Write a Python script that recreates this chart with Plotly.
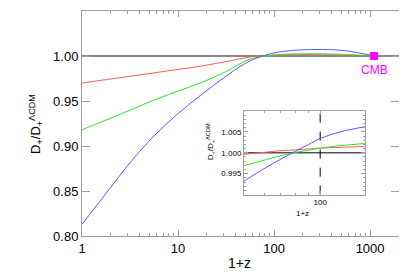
import plotly.graph_objects as go
import numpy as np

# ---- data ----
x_main = [1, 1.8, 3.2, 5.6, 10, 18, 32, 56, 100, 180, 320, 560, 1100]
red_main = [0.970, 0.9738, 0.9775, 0.9812, 0.9850, 0.9890, 0.9938, 0.9990, 1.0010, 1.0015, 1.0014, 1.0010, 1.000]
green_main = [0.918, 0.929, 0.940, 0.951, 0.961, 0.971, 0.983, 0.9965, 1.0011, 1.0024, 1.0024, 1.0017, 1.000]
blue_main = [0.813, 0.848, 0.882, 0.911, 0.936, 0.958, 0.978, 0.9945, 1.0034, 1.0066, 1.0072, 1.0058, 1.000]

x_inset = [50, 60, 70, 80, 90, 100, 120, 150]
red_inset = [0.9996, 1.0001, 1.0005, 1.0007, 1.0009, 1.0011, 1.0013, 1.0015]
green_inset = [0.9969, 0.9982, 0.9993, 1.0001, 1.0006, 1.0011, 1.0017, 1.0022]
blue_inset = [0.9932, 0.9962, 0.9985, 1.0004, 1.0020, 1.0034, 1.0050, 1.0062]

cmb_x = [1100]
cmb_y = [1.0]

RED = "rgb(255,90,90)"
GREEN = "rgb(40,230,40)"
BLUE = "rgb(90,90,255)"
AX = "#a0a0a0"
FONT = "Liberation Sans, Arial, sans-serif"
YTITLE = "D<sub>+</sub>/D<sub>+</sub><sup>ΛCDM</sup>"

fig = go.Figure()

fig.add_trace(go.Scatter(x=[1, 2000], y=[1.0, 1.0], mode="lines",
                         line=dict(color="#8a8a8a", width=2), xaxis="x", yaxis="y", hoverinfo="skip"))
for yy, c in [(red_main, RED), (green_main, GREEN), (blue_main, BLUE)]:
    fig.add_trace(go.Scatter(x=x_main, y=yy, mode="lines",
                             line=dict(color=c, width=1, shape="spline", smoothing=1.0),
                             xaxis="x", yaxis="y"))
fig.add_trace(go.Scatter(x=cmb_x, y=cmb_y, mode="markers",
                         marker=dict(symbol="square", size=8, color="#ff00ff"), xaxis="x", yaxis="y"))

# inset
fig.add_trace(go.Scatter(x=[50, 150], y=[1.0, 1.0], mode="lines",
                         line=dict(color="#555555", width=1.5), xaxis="x2", yaxis="y2"))
fig.add_trace(go.Scatter(x=[100, 100], y=[0.990, 1.010], mode="lines",
                         line=dict(color="black", width=1, dash="dash"), xaxis="x2", yaxis="y2"))
for yy, c in [(red_inset, RED), (green_inset, GREEN), (blue_inset, BLUE)]:
    fig.add_trace(go.Scatter(x=x_inset, y=yy, mode="lines", line=dict(color=c, width=1, shape="spline"),
                             xaxis="x2", yaxis="y2"))

fig.add_shape(type="rect", xref="x2 domain", yref="y2", x0=0, x1=1, y0=0.995, y1=1.005,
              fillcolor="#d3d3d3", line_width=0, layer="below")

ax_common = dict(showline=True, linecolor=AX, mirror="allticks", ticks="inside", tickcolor=AX,
                 showgrid=False, zeroline=False, automargin=False)

# page body has an 8px default margin: size/margins compensate so the plot area lands where the reference has it
fig.update_layout(
    width=399, height=270,
    margin=dict(l=74, r=8, t=3, b=42),
    paper_bgcolor="white", plot_bgcolor="white",
    showlegend=False,
    font=dict(family=FONT, color="black"),
    xaxis=dict(type="log", range=[0, np.log10(2000)], domain=[0, 1],
               tickvals=[1, 10, 100, 1000], ticktext=["1", "10", "100", "1000"], ticklen=6,
               minor=dict(ticks="inside", ticklen=3, tickcolor=AX,
                          tickvals=[2, 3, 4, 5, 6, 7, 8, 9, 20, 30, 40, 50, 60, 70, 80, 90,
                                    200, 300, 400, 500, 600, 700, 800, 900]),
               tickfont=dict(size=13), **ax_common),
    yaxis=dict(range=[0.8, 1.05], domain=[0, 1], tickvals=[0.8, 0.85, 0.9, 0.95, 1.0, 1.05],
               tickformat=".2f", ticklen=8, tickfont=dict(size=13), **ax_common),
    xaxis2=dict(type="log", range=[np.log10(50), np.log10(150)], domain=[0.511, 0.892], anchor="y2",
                tickvals=[100], ticktext=["100"], ticklen=4, tickfont=dict(size=8),
                minor=dict(ticks="inside", ticklen=2, tickcolor=AX, tickvals=[60, 70, 80, 90]),
                **ax_common),
    yaxis2=dict(range=[0.990, 1.010], domain=[0.184, 0.556], anchor="x2",
                tickvals=[0.995, 1.0, 1.005], tickformat=".3f", ticklen=4, tickfont=dict(size=8),
                minor=dict(ticks="inside", ticklen=2, tickcolor=AX, dtick=0.001),
                **ax_common),
    annotations=[
        dict(text="1+z", xref="paper", yref="paper", x=0.498, y=-0.1215, showarrow=False,
             font=dict(size=14), xanchor="center", yanchor="middle"),
        dict(text=YTITLE, xref="paper", yref="paper", x=-0.147, y=0.5, showarrow=False,
             font=dict(size=13), textangle=-90, xanchor="center", yanchor="middle"),
        dict(text="CMB", xref="x", yref="y", x=np.log10(1100), y=0.984, showarrow=False,
             font=dict(size=12, color="#ff00ff"), xanchor="center", yanchor="middle"),
        dict(text="1+z", xref="paper", yref="paper", x=(303 - 81.7) / 317.6, y=(235.7 - 213) / 224.7,
             showarrow=False, font=dict(size=8), xanchor="center", yanchor="middle"),
        dict(text=YTITLE, xref="paper", yref="paper", x=0.404, y=0.417, showarrow=False,
             font=dict(size=8), textangle=-90, xanchor="center", yanchor="middle"),
    ],
)

fig.write_html("out.html")
